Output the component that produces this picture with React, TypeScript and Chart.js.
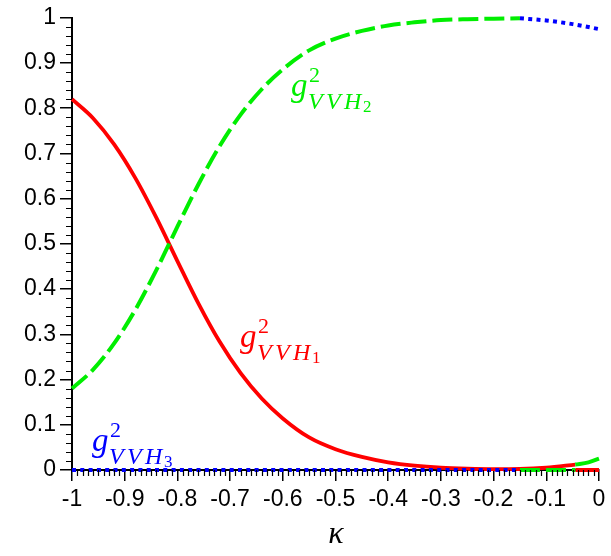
import React, { useEffect, useRef } from 'react';
import { Chart, registerables } from 'chart.js';

Chart.register(...registerables);

const W = 611;
const H = 556;

// g^2_{VVH1} (red, solid): main branch, then zero tail
const kappaH1 = [-1, -0.96, -0.92, -0.88, -0.84, -0.8, -0.76, -0.72, -0.68, -0.64, -0.6, -0.55, -0.5, -0.45, -0.4, -0.35, -0.3, -0.25, -0.2, -0.15, -0.1, -0.045];
const gH1 = [0.82, 0.778, 0.72, 0.646, 0.558, 0.462, 0.368, 0.284, 0.214, 0.158, 0.114, 0.072, 0.046, 0.029, 0.017, 0.0095, 0.005, 0.0028, 0.0018, 0.0022, 0.005, 0.012];
const kappaH1Tail = [-0.045, 0];
const gH1Tail = [0, 0];

// g^2_{VVH2} (green, dashed): main branch, zero piece, rising end
const kappaH2 = [-1, -0.96, -0.92, -0.88, -0.84, -0.8, -0.76, -0.72, -0.68, -0.64, -0.6, -0.55, -0.5, -0.45, -0.4, -0.35, -0.3, -0.25, -0.2, -0.15];
const gH2 = [0.18, 0.222, 0.28, 0.354, 0.442, 0.538, 0.632, 0.716, 0.786, 0.842, 0.886, 0.928, 0.954, 0.971, 0.983, 0.99, 0.995, 0.997, 0.998, 0.999];
const kappaH2Zero = [-0.15, -0.045];
const gH2Zero = [0, 0];
const kappaH2End = [-0.045, -0.02, 0];
const gH2End = [0.012, 0.017, 0.025];

// g^2_{VVH3} (blue, dotted): zero piece, top branch
const kappaH3Zero = [-1, -0.15];
const gH3Zero = [0, 0];
const kappaH3Top = [-0.15, -0.1, -0.05, 0];
const gH3Top = [0.999, 0.994, 0.986, 0.975];

const xTicks = [-1, -0.9, -0.8, -0.7, -0.6, -0.5, -0.4, -0.3, -0.2, -0.1, 0];
const yTicks = [0, 0.1, 0.2, 0.3, 0.4, 0.5, 0.6, 0.7, 0.8, 0.9, 1];

const RED = '#ff0000';
const GREEN = '#00ee00';
const BLUE = '#0000ff';

function pts(xs: number[], ys: number[]) {
  return xs.map((x, i) => ({ x, y: ys[i] }));
}

function fmt(v: number) {
  const r = Math.round(v * 10) / 10;
  if (r === 0) return '0';
  return String(r);
}

const minorTicks = {
  id: 'minorTicks',
  afterDraw(chart: any) {
    const { ctx, scales, chartArea } = chart;
    const x = scales.x;
    const y = scales.y;
    ctx.save();
    ctx.strokeStyle = '#000';
    ctx.lineWidth = 1.2;
    ctx.beginPath();
    for (let i = 0; i <= 100; i++) {
      if (i % 10 === 0) continue;
      const px = Math.round(x.getPixelForValue(-1 + i / 100)) + 0.5;
      ctx.moveTo(px, chartArea.bottom);
      ctx.lineTo(px, chartArea.bottom + 6);
    }
    for (let i = 0; i <= 50; i++) {
      if (i % 5 === 0) continue;
      const py = Math.round(y.getPixelForValue(i / 50)) + 0.5;
      ctx.moveTo(chartArea.left, py);
      ctx.lineTo(chartArea.left - 6, py);
    }
    ctx.stroke();
    ctx.restore();
  },
};

function drawCoupling(ctx: CanvasRenderingContext2D, x: number, base: number, color: string, idx: string) {
  ctx.save();
  ctx.fillStyle = color;
  ctx.textBaseline = 'alphabetic';
  ctx.textAlign = 'left';
  ctx.font = 'italic 33px "Liberation Serif"';
  ctx.fillText('g', x, base);
  ctx.font = '22px "Liberation Serif"';
  ctx.fillText('2', x + 18, base - 14);
  ctx.font = 'italic 24px "Liberation Serif"';
  const sx = x + 17;
  const sb = base + 13;
  ctx.fillText('V', sx, sb);
  ctx.fillText('V', sx + 18, sb);
  ctx.fillText('H', sx + 36, sb);
  ctx.font = '17px "Liberation Serif"';
  ctx.fillText(idx, sx + 55, sb + 3);
  ctx.restore();
}

const annotations = {
  id: 'mathLabels',
  afterDraw(chart: any) {
    const ctx = chart.ctx as CanvasRenderingContext2D;
    drawCoupling(ctx, 291, 96, GREEN, '2');
    drawCoupling(ctx, 240, 347, RED, '1');
    drawCoupling(ctx, 92, 451, BLUE, '3');
    ctx.save();
    ctx.fillStyle = '#000';
    ctx.font = 'italic 32px "Liberation Serif"';
    ctx.textAlign = 'center';
    ctx.textBaseline = 'middle';
    ctx.fillText('κ', 336, 535);
    ctx.restore();
  },
};

export default function App() {
  const ref = useRef<HTMLCanvasElement | null>(null);

  useEffect(() => {
    if (!ref.current) return;
    const common = { pointRadius: 0, fill: false, clip: false as any, cubicInterpolationMode: 'monotone' as const };
    const chart = new Chart(ref.current, {
      type: 'line',
      data: {
        datasets: [
          { ...common, data: pts(kappaH3Zero, gH3Zero), borderColor: BLUE, borderWidth: 4, borderDash: [4, 4.3], order: 0 },
          { ...common, data: pts(kappaH3Top, gH3Top), borderColor: BLUE, borderWidth: 4, borderDash: [4, 4.3], order: 0 },
          { ...common, data: pts(kappaH2, gH2), borderColor: GREEN, borderWidth: 4, borderDash: [20, 6], order: 1 },
          { ...common, data: pts(kappaH2Zero, gH2Zero), borderColor: GREEN, borderWidth: 4, borderDash: [20, 6], order: 1 },
          { ...common, data: pts(kappaH2End, gH2End), borderColor: GREEN, borderWidth: 4, order: 1 },
          { ...common, data: pts(kappaH1, gH1), borderColor: RED, borderWidth: 3.8, order: 2 },
          { ...common, data: pts(kappaH1Tail, gH1Tail), borderColor: RED, borderWidth: 4, order: 2 },
        ],
      },
      options: {
        responsive: false,
        animation: false,
        devicePixelRatio: 1,
        layout: { padding: { left: 0, right: 12, top: 17, bottom: 0 } },
        plugins: { legend: { display: false }, tooltip: { enabled: false } },
        events: [],
        scales: {
          x: {
            type: 'linear',
            min: -1,
            max: 0,
            afterFit: (s: any) => { s.height = 86; },
            afterBuildTicks: (s: any) => { s.ticks = xTicks.map((v) => ({ value: v })); },
            ticks: {
              callback: (v: any) => fmt(Number(v)),
              color: '#000',
              font: { family: '"Liberation Sans"', size: 23 },
              padding: 5,
              maxRotation: 0,
              autoSkip: false,
            },
            grid: { drawOnChartArea: false, drawTicks: true, tickLength: 11, color: '#000', lineWidth: 1.5 },
            border: { display: true, color: '#000', width: 2 },
          },
          y: {
            type: 'linear',
            min: 0,
            max: 1,
            afterFit: (s: any) => { s.width = 72; },
            afterBuildTicks: (s: any) => { s.ticks = yTicks.map((v) => ({ value: v })); },
            ticks: {
              callback: (v: any) => fmt(Number(v)),
              color: '#000',
              font: { family: '"Liberation Sans"', size: 23 },
              padding: 4,
              autoSkip: false,
            },
            grid: { drawOnChartArea: false, drawTicks: true, tickLength: 12, color: '#000', lineWidth: 1.5 },
            border: { display: true, color: '#000', width: 2 },
          },
        },
      },
      plugins: [minorTicks, annotations],
    });
    return () => chart.destroy();
  }, []);

  return (
    <div style={{ position: 'fixed', left: 0, top: 0, width: W, height: H, background: '#fff' }}>
      <canvas ref={ref} width={W} height={H} style={{ width: W, height: H, display: 'block' }} />
    </div>
  );
}
